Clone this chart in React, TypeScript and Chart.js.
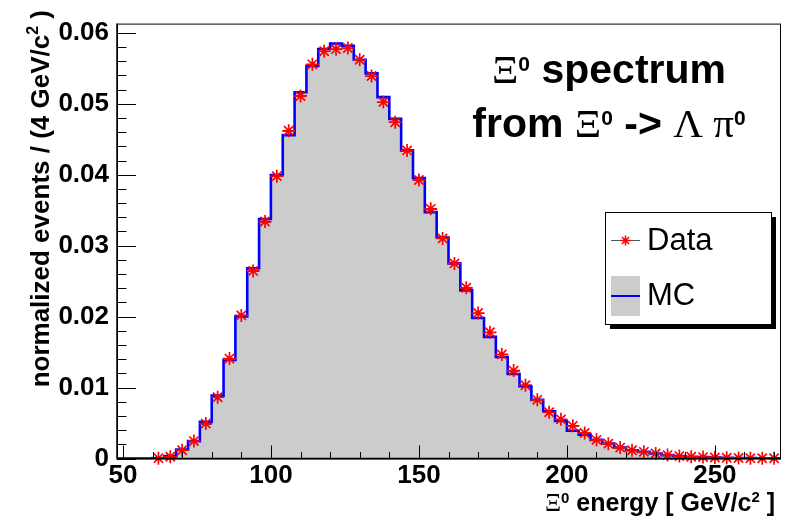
import React, { useEffect, useRef } from 'react';
import { Chart, registerables } from 'chart.js';

Chart.register(...registerables);

// ---- data ----
const binCenters = [
  50, 54, 58, 62, 66, 70, 74, 78, 82, 86, 90, 94, 98, 102, 106, 110, 114, 118, 122, 126,
  130, 134, 138, 142, 146, 150, 154, 158, 162, 166, 170, 174, 178, 182, 186, 190, 194, 198,
  202, 206, 210, 214, 218, 222, 226, 230, 234, 238, 242, 246, 250, 254, 258, 262, 266, 270,
];
const BIN_WIDTH = 4;

const mcValues = [
  0, 0, 0, 0.00005, 0.00034, 0.00126, 0.00245, 0.00519, 0.00886, 0.0139, 0.02003, 0.02681,
  0.03376, 0.03995, 0.04558, 0.05162, 0.05533, 0.05772, 0.05849, 0.05817, 0.05621, 0.05429,
  0.05093, 0.04787, 0.04343, 0.03953, 0.03473, 0.03115, 0.0275, 0.0237, 0.01981, 0.01714,
  0.01431, 0.01192, 0.01019, 0.00827, 0.00666, 0.00529, 0.00391, 0.00337, 0.00263, 0.00209,
  0.00154, 0.00117, 0.00094, 0.00071, 0.00048, 0.00034, 0.00025, 0.0002, 0.00015, 0.0001,
  0.00008, 0.00005, 0.00004, 0.00003,
];

const dataValues: (number | null)[] = [
  null, null, null, 0.00005, 0.00025, 0.00117, 0.00245, 0.00492, 0.00863, 0.01408, 0.02017,
  0.02644, 0.0334, 0.0398, 0.0462, 0.0511, 0.05556, 0.0574, 0.0577, 0.05786, 0.0562, 0.05391,
  0.05025, 0.0474, 0.04343, 0.03926, 0.03519, 0.03102, 0.0275, 0.02406, 0.0205, 0.01779,
  0.01467, 0.01239, 0.01033, 0.00827, 0.00652, 0.00552, 0.0046, 0.0036, 0.00263, 0.00209,
  0.00154, 0.00117, 0.00094, 0.00071, 0.00048, 0.00034, 0.00025, 0.0002, 0.00015, 0.0001,
  0.00008, 0.00005, 0.00004, 0.00003,
];

const xTickValues = [50, 100, 150, 200, 250];
const yTickValues = [0, 0.01, 0.02, 0.03, 0.04, 0.05, 0.06];
const X_MINOR = 10;
const Y_MINOR = 0.002;
const X_MIN = 48;
const X_MAX = 272;
const Y_MAX = 0.0613;

const SANS = '"Liberation Sans", Arial, Helvetica, sans-serif';
const SERIF = '"Liberation Serif", "Times New Roman", serif';

type Seg = { t: string; font: string; dy?: number };

function richWidth(ctx: CanvasRenderingContext2D, segs: Seg[]) {
  let w = 0;
  for (const s of segs) {
    ctx.font = s.font;
    w += ctx.measureText(s.t).width;
  }
  return w;
}
function drawRich(ctx: CanvasRenderingContext2D, segs: Seg[], x: number, y: number) {
  let cx = x;
  for (const s of segs) {
    ctx.font = s.font;
    ctx.fillText(s.t, cx, y - (s.dy || 0));
    cx += ctx.measureText(s.t).width;
  }
}

const rootPlugin = {
  id: 'rootStyle',
  beforeDatasetDraw(chart: any, args: any) {
    if (args.index !== 1) return;
    const ctx = chart.ctx as CanvasRenderingContext2D;
    const xs = chart.scales.x;
    const ys = chart.scales.y;
    ctx.save();
    ctx.strokeStyle = '#555555';
    ctx.lineWidth = 1;
    binCenters.forEach((c, i) => {
      const v = dataValues[i];
      if (v === null) return;
      const py = Math.round(ys.getPixelForValue(v)) + 0.5;
      ctx.beginPath();
      ctx.moveTo(xs.getPixelForValue(c - BIN_WIDTH / 2), py);
      ctx.lineTo(xs.getPixelForValue(c + BIN_WIDTH / 2), py);
      ctx.stroke();
    });
    ctx.restore();
  },
  afterDraw(chart: any) {
    const ctx = chart.ctx as CanvasRenderingContext2D;
    const { left, right, top, bottom } = chart.chartArea;
    const xs = chart.scales.x;
    const ys = chart.scales.y;
    ctx.save();
    // ticks
    ctx.strokeStyle = '#000';
    ctx.lineWidth = 1;
    ctx.beginPath();
    for (let v = 0; v <= Y_MAX + 1e-9; v += Y_MINOR) {
      const py = Math.round(ys.getPixelForValue(v)) + 0.5;
      const major = Math.abs(v / 0.01 - Math.round(v / 0.01)) < 1e-6;
      ctx.moveTo(left, py);
      ctx.lineTo(left + (major ? 19 : 9.5), py);
    }
    for (let v = 50; v <= X_MAX; v += X_MINOR) {
      const px = Math.round(xs.getPixelForValue(v)) + 0.5;
      const major = v % 50 === 0;
      ctx.moveTo(px, bottom);
      ctx.lineTo(px, bottom - (major ? 13 : 6.5));
    }
    ctx.stroke();
    // frame
    ctx.lineWidth = 1;
    ctx.strokeRect(left + 0.5, top + 0.5, right - left, bottom - top);
    ctx.lineWidth = 1.5;
    ctx.beginPath();
    ctx.moveTo(left, top);
    ctx.lineTo(left, bottom);
    ctx.lineTo(right, bottom);
    ctx.stroke();

    ctx.fillStyle = '#000';
    ctx.textBaseline = 'alphabetic';
    // title
    const line1: Seg[] = [
      { t: 'Ξ', font: `41px ${SERIF}` },
      { t: '0', font: `bold 21px ${SANS}`, dy: 12 },
      { t: ' spectrum', font: `bold 41px ${SANS}` },
    ];
    const line2: Seg[] = [
      { t: 'from ', font: `bold 41px ${SANS}` },
      { t: 'Ξ', font: `41px ${SERIF}` },
      { t: '0', font: `bold 21px ${SANS}`, dy: 12 },
      { t: ' -> ', font: `bold 41px ${SANS}` },
      { t: 'Λ π', font: `41px ${SERIF}` },
      { t: '0', font: `bold 21px ${SANS}`, dy: 12 },
    ];
    const cx = 609;
    drawRich(ctx, line1, cx - richWidth(ctx, line1) / 2, 83);
    drawRich(ctx, line2, cx - richWidth(ctx, line2) / 2, 137);

    // x title
    const xt: Seg[] = [
      { t: 'Ξ', font: `25px ${SERIF}` },
      { t: '0', font: `bold 15px ${SANS}`, dy: 8 },
      { t: ' energy [ GeV/c', font: `bold 25px ${SANS}` },
      { t: '2', font: `bold 15px ${SANS}`, dy: 9 },
      { t: ' ]', font: `bold 25px ${SANS}` },
    ];
    drawRich(ctx, xt, 775 - richWidth(ctx, xt), 511);

    // y title
    const yt: Seg[] = [
      { t: 'normalized events / (4 GeV/c', font: `bold 26px ${SANS}` },
      { t: '2', font: `bold 16px ${SANS}`, dy: 11 },
      { t: ' )', font: `bold 26px ${SANS}` },
    ];
    ctx.save();
    ctx.translate(49, 10);
    ctx.rotate(-Math.PI / 2);
    drawRich(ctx, yt, -richWidth(ctx, yt), 0);
    ctx.restore();

    // legend
    const lx = 605, ly = 212, lw = 166, lh = 112;
    ctx.fillStyle = '#000';
    ctx.fillRect(lx + 5, ly + 5, lw, lh);
    ctx.fillStyle = '#fff';
    ctx.fillRect(lx, ly, lw, lh);
    ctx.strokeStyle = '#000';
    ctx.lineWidth = 1;
    ctx.strokeRect(lx + 0.5, ly + 0.5, lw, lh);
    const ds = chart.data.datasets;
    // Data entry
    ctx.strokeStyle = '#555';
    ctx.beginPath();
    ctx.moveTo(611, 240.5);
    ctx.lineTo(640, 240.5);
    ctx.stroke();
    ctx.strokeStyle = '#ff0000';
    ctx.lineWidth = 1.5;
    ctx.beginPath();
    const sx = 625.5, sy = 240.5, r = 5;
    ctx.moveTo(sx - r, sy); ctx.lineTo(sx + r, sy);
    ctx.moveTo(sx, sy - r); ctx.lineTo(sx, sy + r);
    const d = r * Math.SQRT1_2;
    ctx.moveTo(sx - d, sy - d); ctx.lineTo(sx + d, sy + d);
    ctx.moveTo(sx - d, sy + d); ctx.lineTo(sx + d, sy - d);
    ctx.stroke();
    // MC entry
    ctx.fillStyle = '#cccccc';
    ctx.fillRect(611, 276, 29, 40);
    ctx.strokeStyle = '#0000ff';
    ctx.lineWidth = 2;
    ctx.beginPath();
    ctx.moveTo(611, 296);
    ctx.lineTo(640, 296);
    ctx.stroke();
    ctx.fillStyle = '#000';
    ctx.font = `31px ${SANS}`;
    ctx.textBaseline = 'alphabetic';
    ctx.fillText(ds[1].label, 647, 250);
    ctx.fillText(ds[0].label, 647, 305);
    ctx.restore();
  },
};

export default function App() {
  const ref = useRef<HTMLCanvasElement | null>(null);
  useEffect(() => {
    if (!ref.current) return;
    const mcPoints = binCenters.map((c, i) => ({ x: c - BIN_WIDTH / 2, y: mcValues[i] }));
    mcPoints.push({
      x: binCenters[binCenters.length - 1] + BIN_WIDTH / 2,
      y: mcValues[mcValues.length - 1],
    });
    const dataPoints = binCenters.map((c, i) => ({ x: c, y: dataValues[i] }));
    const chart = new Chart(ref.current, {
      type: 'line',
      data: {
        datasets: [
          {
            label: 'MC',
            data: mcPoints as any,
            stepped: 'before',
            borderColor: '#0000ff',
            borderWidth: 2.6,
            backgroundColor: '#cccccc',
            fill: 'origin',
            pointRadius: 0,
            tension: 0,
            order: 2,
          },
          {
            label: 'Data',
            data: dataPoints as any,
            showLine: false,
            pointStyle: 'star',
            pointRadius: 6.5,
            pointBorderColor: '#ff0000',
            pointBackgroundColor: '#ff0000',
            pointBorderWidth: 1.7,
            clip: false as any,
            order: 1,
          },
        ],
      },
      options: {
        animation: false,
        responsive: false,
        devicePixelRatio: 1,
        layout: { padding: { left: 0, top: 12, right: 15, bottom: 0 } },
        plugins: { legend: { display: false }, tooltip: { enabled: false } },
        scales: {
          x: {
            type: 'linear',
            min: X_MIN,
            max: X_MAX,
            grid: { display: false, drawTicks: false, tickLength: 0 },
            border: { display: false },
            afterBuildTicks: (s: any) => {
              s.ticks = xTickValues.map((v) => ({ value: v }));
            },
            afterFit: (s: any) => {
              s.height = 64.5;
            },
            ticks: {
              autoSkip: false,
              maxRotation: 0,
              padding: 2,
              color: '#000',
              font: { family: SANS, size: 26, weight: 'bold' },
              callback: (v: any) => String(v),
            },
          },
          y: {
            type: 'linear',
            min: 0,
            max: Y_MAX,
            grid: { display: false, drawTicks: false, tickLength: 0 },
            border: { display: false },
            afterBuildTicks: (s: any) => {
              s.ticks = yTickValues.map((v) => ({ value: v }));
            },
            afterFit: (s: any) => {
              s.width = 117;
            },
            ticks: {
              autoSkip: false,
              padding: 8,
              color: '#000',
              font: { family: SANS, size: 26, weight: 'bold' },
              callback: (v: any) => (v === 0 ? '0' : Number(v).toFixed(2)),
            },
          },
        },
      },
      plugins: [rootPlugin],
    });
    return () => chart.destroy();
  }, []);
  return (
    <div style={{ position: 'fixed', left: 0, top: 0, width: 795, height: 523, background: '#fff' }}>
      <canvas ref={ref} width={795} height={523} style={{ display: 'block' }} />
    </div>
  );
}
